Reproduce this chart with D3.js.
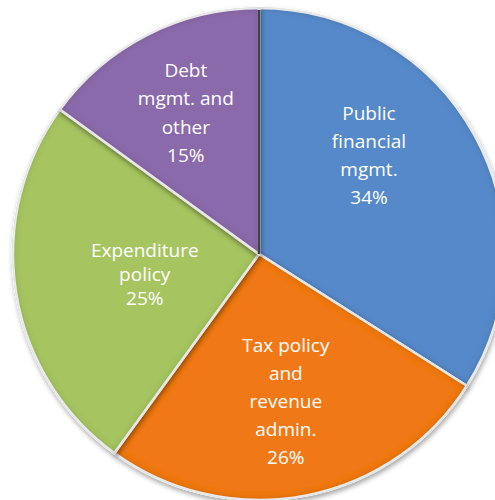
<!DOCTYPE html>
<html>
<head>
<meta charset="utf-8">
<script src="https://cdn.jsdelivr.net/npm/d3@7/dist/d3.min.js"></script>
<style>
  html, body { margin: 0; padding: 0; background: #ffffff; }
  svg { display: block; }
  text { font-family: "Open Sans", "Noto Sans", sans-serif; }
</style>
</head>
<body>
<svg id="chart" width="495" height="500"></svg>
<script>
// Share of technical assistance by area
const categories = ["Public financial mgmt.", "Tax policy and revenue admin.", "Expenditure policy", "Debt mgmt. and other"];
const shares = [34, 26, 25, 15];
const labelLines = [
  ["Public", "financial", "mgmt.", "34%"],
  ["Tax policy", "and", "revenue", "admin.", "26%"],
  ["Expenditure", "policy", "25%"],
  ["Debt", "mgmt. and", "other", "15%"]
];
const colors = ["#5789c9", "#f07812", "#a6c561", "#8b6bab"];

const width = 495, height = 500;
const cx = 259, cy = 254, radius = 246;

const svg = d3.select("#chart");
const defs = svg.append("defs");

// Soft bevel: darkened rim inside each wedge plus a light drop shadow
const f = defs.append("filter").attr("id", "bevel")
  .attr("x", "-10%").attr("y", "-10%").attr("width", "120%").attr("height", "120%");
f.append("feGaussianBlur").attr("in", "SourceAlpha").attr("stdDeviation", 4).attr("result", "blur");
f.append("feComposite").attr("in", "SourceAlpha").attr("in2", "blur")
  .attr("operator", "arithmetic").attr("k2", 1).attr("k3", -1).attr("result", "rim");
f.append("feFlood").attr("flood-color", "#000").attr("flood-opacity", 0.5).attr("result", "dark");
f.append("feComposite").attr("in", "dark").attr("in2", "rim").attr("operator", "in").attr("result", "rimDark");
f.append("feGaussianBlur").attr("in", "SourceAlpha").attr("stdDeviation", 2.5).attr("result", "sblur");
f.append("feOffset").attr("in", "sblur").attr("dx", 1).attr("dy", 3).attr("result", "soff");
f.append("feFlood").attr("flood-color", "#000").attr("flood-opacity", 0.35).attr("result", "sc");
f.append("feComposite").attr("in", "sc").attr("in2", "soff").attr("operator", "in").attr("result", "shadow");
const m = f.append("feMerge");
m.append("feMergeNode").attr("in", "shadow");
m.append("feMergeNode").attr("in", "SourceGraphic");
m.append("feMergeNode").attr("in", "rimDark");

const pie = d3.pie().sort(null).value(d => d).startAngle(0).endAngle(2 * Math.PI);
const arcs = pie(shares);
const arc = d3.arc().innerRadius(0).outerRadius(radius);

const g = svg.append("g").attr("transform", `translate(${cx},${cy})`);

g.selectAll("path.slice")
  .data(arcs)
  .join("path")
  .attr("class", "slice")
  .attr("d", arc)
  .attr("fill", (d, i) => colors[i])
  .attr("stroke", "#ffffff")
  .attr("stroke-width", 2.5)
  .attr("filter", "url(#bevel)");

// Dark seam along the leading edge of the first wedge
const a0 = arcs[0].startAngle;
g.append("line")
  .attr("x1", 0).attr("y1", 0)
  .attr("x2", radius * Math.sin(a0)).attr("y2", -radius * Math.cos(a0) + 2)
  .attr("stroke", "#2e2e33")
  .attr("stroke-opacity", 0.9)
  .attr("stroke-width", 2.5);

// Label block centre for each wedge: angle (deg, clockwise from 12 o'clock) and distance from the centre
const labelPos = [
  { a: 48, d: 148, lh: 28 },
  { a: 169.7, d: 150, lh: 28 },
  { a: 260, d: 116, lh: 24 },
  { a: 332.6, d: 159, lh: 28.5 }
];
const fontSize = 19;

const labels = g.selectAll("text.lbl")
  .data(arcs)
  .join("text")
  .attr("class", "lbl")
  .attr("fill", "#ffffff")
  .attr("font-size", fontSize)
  .attr("text-anchor", "middle")
  .attr("transform", (d, i) => {
    const p = labelPos[i];
    const t = p.a * Math.PI / 180;
    const x = p.d * Math.sin(t), y = -p.d * Math.cos(t);
    const n = labelLines[i].length;
    return `translate(${x},${y - (n - 1) * p.lh / 2})`;
  });

labels.each(function (d, i) {
  const t = d3.select(this);
  labelLines[i].forEach((line, k) => {
    t.append("tspan")
      .attr("x", 0)
      .attr("y", k * labelPos[i].lh)
      .attr("dy", "0.35em")
      .text(line);
  });
});
</script>
</body>
</html>
